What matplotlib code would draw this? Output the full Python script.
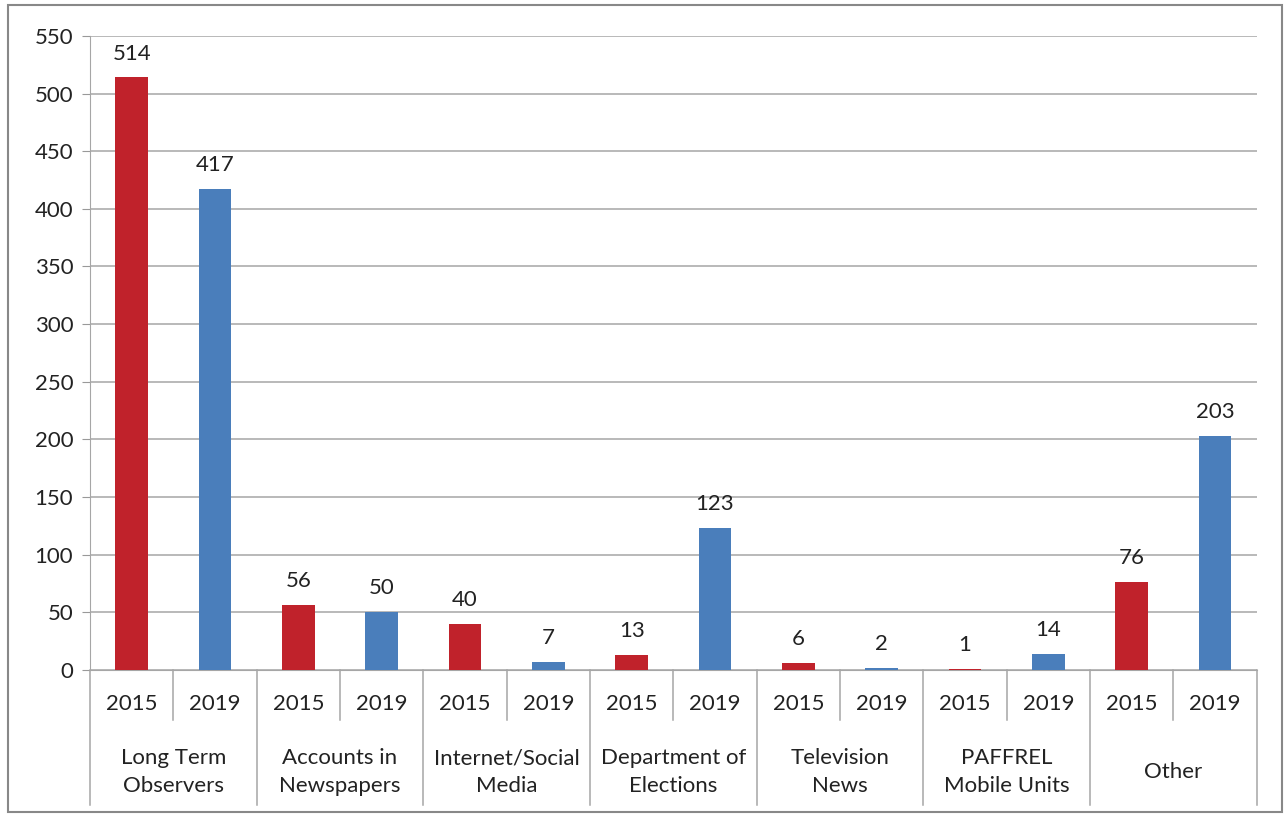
import matplotlib.pyplot as plt
from matplotlib.patches import Rectangle

# data
groups = ['Long Term\nObservers', 'Accounts in\nNewspapers', 'Internet/Social\nMedia',
          'Department of\nElections', 'Television\nNews', 'PAFFREL\nMobile Units', 'Other']
years = ['2015', '2019']
vals_2015 = [514, 56, 40, 13, 6, 1, 76]
vals_2019 = [417, 50, 7, 123, 2, 14, 203]

red = '#C0222B'
blue = '#4A7EBB'

plt.rcParams['font.family'] = ['Lato', 'DejaVu Sans']

fig = plt.figure(figsize=(12.85, 8.16), dpi=100)
ax = fig.add_axes([0.070, 0.179, 0.908, 0.777])

n = len(groups)
x15 = [2 * i for i in range(n)]
x19 = [2 * i + 1 for i in range(n)]
bw = 0.39
ax.bar(x15, vals_2015, bw, color=red, zorder=3)
ax.bar(x19, vals_2019, bw, color=blue, zorder=3)

# labels boven de staven
for xs, vs in [(x15, vals_2015), (x19, vals_2019)]:
    for x, v in zip(xs, vs):
        ax.annotate(str(v), (x, v), xytext=(0, 10), textcoords='offset points',
                    ha='center', va='bottom', fontsize=16, color='#222222')

ax.set_xlim(-0.5, 2 * n - 0.5)
ax.set_ylim(0, 550)
ax.set_yticks(range(0, 551, 50))
ax.tick_params(axis='y', labelsize=16, length=6, color='#999999', labelcolor='#222222', pad=6)
ax.grid(axis='y', color='#A6A6A6', linewidth=1.1, zorder=0)
ax.set_xticks([])
for s in ['top', 'right']:
    ax.spines[s].set_visible(False)
ax.spines['left'].set_color('#A6A6A6')
ax.spines['bottom'].set_color('#A6A6A6')

# categorie-as met twee niveaus
tr = ax.get_xaxis_transform()
for i in range(n):
    ax.plot([2 * i + 0.5, 2 * i + 0.5], [0, -0.079], transform=tr, clip_on=False,
            color='#A6A6A6', linewidth=1.1)
for i in range(n + 1):
    ax.plot([2 * i - 0.5, 2 * i - 0.5], [0, -0.213], transform=tr, clip_on=False,
            color='#A6A6A6', linewidth=1.1)
for i in range(n):
    for j, yr in enumerate(years):
        ax.text(2 * i + j, -0.053, yr, transform=tr, ha='center', va='center',
                fontsize=16, color='#222222')
    ax.text(2 * i + 0.5, -0.161, groups[i], transform=tr, ha='center', va='center',
            fontsize=16, color='#222222', linespacing=1.45)

# rand
fig.patches.append(Rectangle((0.006, 0.005), 0.992, 0.989, transform=fig.transFigure,
                             fill=False, edgecolor='#888888', linewidth=1.5))

fig.savefig('out.png', dpi=100)
